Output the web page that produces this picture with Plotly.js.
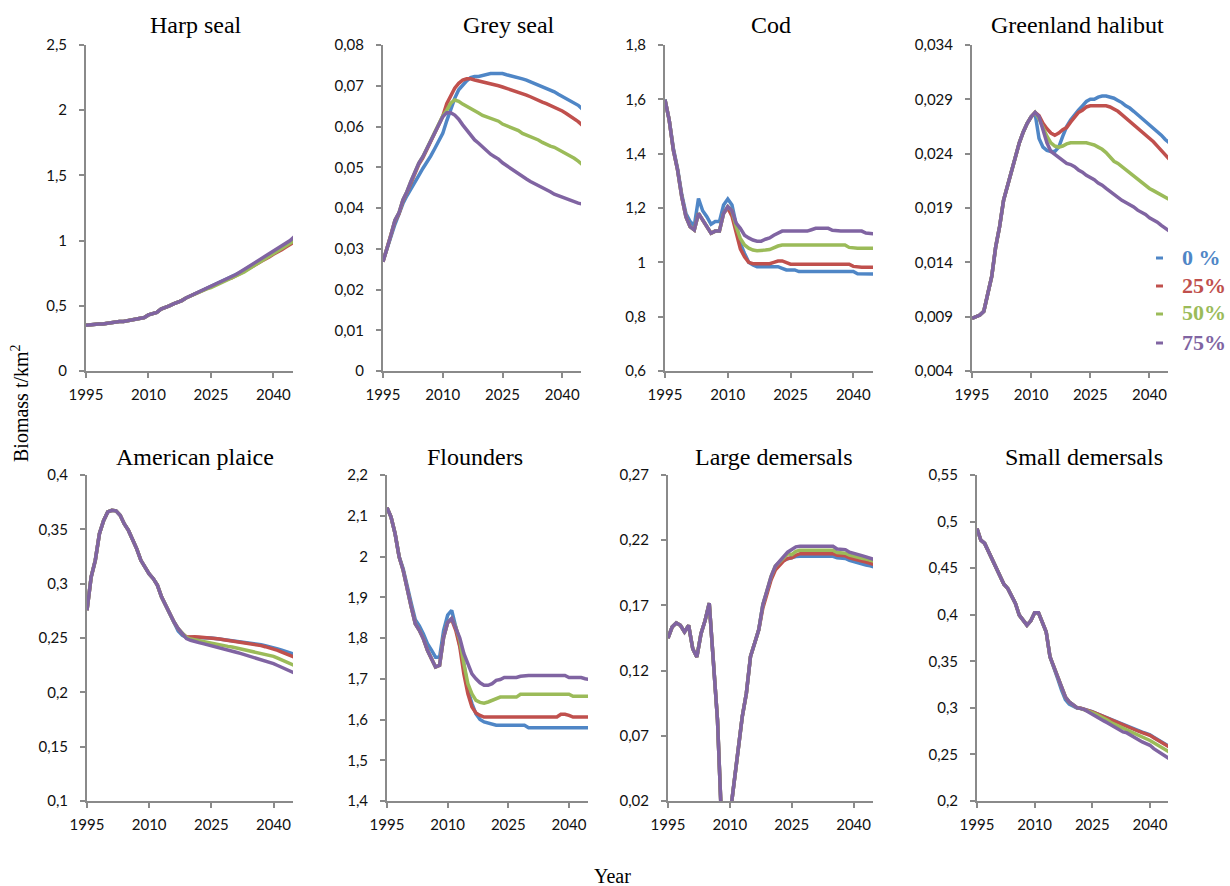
<!DOCTYPE html>
<html>
<head>
<meta charset="utf-8">
<script src="https://cdn.plot.ly/plotly-3.0.1.min.js"></script>
<style>
html,body{margin:0;padding:0;background:#fff;}
#chart{width:1230px;height:886px;}
</style>
</head>
<body>
<div id="chart"></div>
<script>
// ---------------- DATA ----------------
const YEARS = [1995,1996,1997,1998,1999,2000,2001,2002,2003,2004,2005,2006,2007,2008,2009,2010,2011,2012,2013,2014,2015,2016,2017,2018,2019,2020,2021,2022,2023,2024,2025,2026,2027,2028,2029,2030,2031,2032,2033,2034,2035,2036,2037,2038,2039,2040,2041,2042,2043,2044,2045];
const SCENARIOS = ["0 %", "25%", "50%", "75%"];
const X_TICK_VALUES = [1995, 2010, 2025, 2040];
const X_TICK_LABELS = ["1995", "2010", "2025", "2040"];
const PANEL_TITLES = ["Harp seal","Grey seal","Cod","Greenland halibut","American plaice","Flounders","Large demersals","Small demersals"];

// Harp seal
const harp_0 = [.35,.355,.36,.36,.36,.365,.375,.38,.38,.38,.385,.395,.40,.405,.41,.43,.44,.45,.475,.485,.50,.515,.525,.54,.56,.575,.59,.60,.615,.63,.645,.66,.675,.69,.705,.72,.735,.755,.775,.795,.815,.835,.855,.87,.89,.91,.93,.95,.97,.99,1.01];
const harp_25 = [.35,.355,.36,.36,.36,.365,.375,.38,.38,.38,.385,.395,.40,.405,.41,.43,.44,.45,.475,.485,.50,.515,.525,.54,.56,.575,.59,.60,.615,.63,.645,.66,.675,.69,.705,.715,.73,.745,.765,.785,.80,.82,.84,.855,.875,.895,.91,.93,.95,.97,.99];
const harp_50 = [.35,.355,.36,.36,.36,.365,.375,.38,.38,.38,.385,.395,.40,.405,.41,.43,.44,.45,.475,.485,.50,.515,.525,.54,.56,.575,.59,.60,.615,.63,.64,.655,.67,.685,.70,.71,.725,.74,.76,.78,.80,.82,.84,.855,.875,.895,.915,.935,.955,.98,1.0];
const harp_75 = [.35,.355,.36,.36,.36,.365,.375,.38,.38,.38,.385,.395,.40,.405,.41,.43,.44,.45,.475,.485,.50,.515,.525,.54,.56,.575,.59,.60,.615,.63,.645,.66,.675,.69,.705,.72,.74,.76,.78,.80,.82,.84,.86,.875,.895,.915,.935,.955,.975,1.0,1.03];

// Grey seal
const grey_0 = [.027,.0302,.033,.036,.0385,.0411,.043,.0448,.0465,.048,.0497,.0512,.0528,.0546,.0567,.0583,.0614,.0645,.0669,.069,.0702,.0712,.072,.0723,.0723,.0725,.0729,.073,.073,.073,.073,.0727,.0725,.0723,.072,.0717,.0714,.071,.0706,.0702,.0698,.0694,.069,.0685,.0679,.0674,.0669,.0663,.0658,.0652,.0643];
const grey_25 = [.0268,.0303,.0332,.0368,.0386,.0418,.0438,.0462,.0486,.0507,.0523,.0543,.0564,.0584,.0605,.0625,.0656,.0677,.0694,.0706,.0714,.0717,.0717,.0714,.0712,.071,.0707,.0706,.0702,.07,.0697,.0694,.069,.0687,.0685,.068,.0677,.0673,.0668,.0664,.066,.0656,.0652,.0648,.0644,.0638,.0632,.0626,.062,.0612,.0603];
const grey_50 = [.0268,.0305,.0334,.037,.0388,.042,.044,.0465,.0489,.051,.0526,.0546,.0567,.0587,.0608,.0626,.064,.0657,.0665,.0662,.0655,.065,.0645,.0639,.0633,.0627,.0623,.062,.0616,.0613,.0606,.0602,.0597,.0593,.059,.0583,.0579,.0575,.0572,.0567,.0561,.0556,.0552,.0549,.0544,.0538,.0533,.0528,.0522,.0515,.0507];
const grey_75 = [.0268,.0305,.0334,.037,.0388,.042,.044,.0465,.0489,.051,.0526,.0546,.0567,.0587,.0608,.0624,.0634,.0634,.0628,.0618,.0604,.0591,.0577,.0567,.0559,.0549,.0541,.0532,.0526,.052,.0511,.0504,.0497,.049,.0485,.0477,.0471,.0465,.046,.0456,.0452,.0446,.044,.0434,.043,.0428,.0424,.042,.0416,.0412,.041];

// Cod
const cod_0 = [1.6,1.524,1.42,1.345,1.25,1.18,1.15,1.135,1.235,1.19,1.168,1.14,1.15,1.15,1.211,1.233,1.211,1.144,1.07,1.033,1.0,.99,.984,.984,.984,.984,.984,.984,.978,.972,.972,.972,.966,.966,.966,.966,.966,.966,.966,.966,.966,.966,.966,.966,.966,.966,.958,.957,.957,.957,.957];
const cod_25 = [1.598,1.524,1.413,1.34,1.242,1.168,1.131,1.119,1.18,1.156,1.131,1.107,1.115,1.115,1.18,1.2,1.17,1.107,1.05,1.02,1.0,.995,.995,.995,.995,.995,1.0,1.005,1.005,1.0,.993,.993,.993,.993,.993,.993,.993,.993,.993,.993,.993,.993,.993,.993,.993,.985,.982,.982,.982,.982,.982];
const cod_50 = [1.598,1.524,1.413,1.34,1.242,1.168,1.131,1.119,1.18,1.156,1.131,1.107,1.115,1.115,1.18,1.205,1.19,1.131,1.088,1.064,1.052,1.045,1.043,1.043,1.045,1.047,1.055,1.06,1.064,1.064,1.064,1.064,1.064,1.064,1.064,1.064,1.064,1.064,1.064,1.064,1.064,1.064,1.064,1.064,1.055,1.052,1.052,1.052,1.052,1.052,1.052];
const cod_75 = [1.598,1.524,1.413,1.34,1.242,1.168,1.131,1.119,1.18,1.156,1.131,1.107,1.115,1.115,1.18,1.205,1.19,1.144,1.125,1.1,1.09,1.082,1.078,1.078,1.085,1.09,1.1,1.108,1.115,1.115,1.115,1.115,1.115,1.115,1.115,1.12,1.125,1.125,1.125,1.125,1.118,1.115,1.115,1.115,1.115,1.115,1.115,1.115,1.108,1.105,1.105];

// Greenland halibut
const ghal_0 = [.00885,.009,.00915,.0095,.0112,.0127,.0154,.0173,.0197,.021,.0225,.0237,.025,.026,.0268,.0274,.0277,.0254,.0246,.0243,.0242,.0242,.0246,.0256,.0265,.0271,.0276,.028,.0284,.0288,.029,.029,.0292,.0293,.0293,.0292,.0291,.0289,.0287,.0284,.0282,.0279,.0276,.0273,.0269,.0266,.0263,.026,.0257,.0253,.025];
const ghal_25 = [.00885,.009,.00915,.0095,.0112,.0127,.0154,.0173,.0197,.021,.0225,.0237,.025,.026,.0268,.0274,.0278,.0275,.0268,.0263,.0259,.0257,.0259,.0262,.0264,.0269,.0274,.0278,.028,.0283,.0284,.0284,.0284,.0284,.0284,.0283,.0281,.0279,.0276,.0273,.0269,.0266,.0263,.026,.0257,.0254,.0251,.0247,.0243,.0239,.0235];
const ghal_50 = [.00885,.009,.00915,.0095,.0112,.0127,.0154,.0173,.0197,.021,.0225,.0237,.025,.026,.0268,.0274,.0278,.0272,.0263,.0256,.025,.0247,.0246,.0247,.0249,.025,.025,.025,.025,.025,.0249,.0248,.0246,.0244,.0241,.0237,.0233,.0231,.0228,.0225,.0222,.022,.0217,.0213,.021,.0208,.0206,.0204,.0202,.02,.0198];
const ghal_75 = [.00885,.009,.00915,.0095,.0112,.0127,.0154,.0173,.0197,.021,.0225,.0237,.025,.026,.0268,.0274,.0278,.0274,.0262,.025,.0242,.0239,.0236,.0233,.0231,.023,.0228,.0225,.0223,.022,.0218,.0216,.0213,.0211,.0208,.0205,.0202,.02,.0197,.0195,.0193,.0191,.0188,.0186,.0184,.0181,.0179,.0177,.0174,.0171,.0169];

// American plaice
const plaice_0 = [.2755,.306,.3215,.346,.358,.366,.3675,.367,.363,.355,.349,.341,.332,.3215,.315,.309,.3046,.2985,.2877,.28,.2709,.263,.2565,.2525,.2505,.2505,.2505,.2505,.2503,.2502,.25,.2495,.249,.2485,.248,.2475,.2471,.2467,.2463,.2459,.2455,.2446,.2438,.2429,.2421,.2412,.2399,.2387,.2375,.2362,.235];
const plaice_25 = [.2755,.306,.3215,.346,.358,.366,.3675,.367,.363,.355,.349,.341,.332,.3215,.315,.309,.3046,.2985,.2877,.28,.2709,.2647,.2586,.254,.251,.2515,.2512,.251,.2507,.2505,.2503,.2497,.249,.2484,.2478,.2472,.2467,.2462,.2458,.2453,.2448,.2439,.243,.242,.2411,.2402,.2387,.2371,.2356,.234,.2325];
const plaice_50 = [.2755,.306,.3215,.346,.358,.366,.3675,.367,.363,.355,.349,.341,.332,.3215,.315,.309,.3046,.2985,.2877,.28,.2709,.2647,.2586,.254,.2505,.249,.2482,.2473,.2465,.2456,.2448,.2442,.2436,.2429,.2423,.2417,.2409,.2401,.2393,.2385,.2377,.2368,.2359,.2349,.234,.2331,.2314,.2298,.2281,.2264,.2248];
const plaice_75 = [.2755,.306,.3215,.346,.358,.366,.3675,.367,.363,.355,.349,.341,.332,.3215,.315,.309,.3046,.2985,.2877,.28,.2709,.2647,.2586,.254,.2494,.2479,.2472,.2457,.2448,.2439,.243,.242,.241,.24,.239,.238,.2369,.2358,.2347,.2336,.2325,.2313,.2301,.2289,.2277,.2264,.2247,.223,.2212,.2195,.2178];

// Flounders
const floun_0 = [2.12,2.097,2.056,2.0,1.97,1.925,1.885,1.845,1.83,1.81,1.786,1.77,1.753,1.753,1.819,1.856,1.868,1.827,1.786,1.737,1.672,1.639,1.614,1.6,1.594,1.591,1.59,1.586,1.586,1.586,1.586,1.586,1.586,1.586,1.586,1.58,1.58,1.58,1.58,1.58,1.58,1.58,1.58,1.58,1.58,1.58,1.58,1.58,1.58,1.58,1.58];
const floun_25 = [2.12,2.097,2.056,1.999,1.966,1.917,1.876,1.835,1.819,1.798,1.77,1.749,1.729,1.733,1.802,1.838,1.845,1.819,1.778,1.712,1.663,1.631,1.616,1.61,1.606,1.606,1.606,1.606,1.606,1.606,1.606,1.606,1.606,1.606,1.606,1.606,1.606,1.606,1.606,1.606,1.606,1.606,1.606,1.613,1.613,1.61,1.606,1.606,1.606,1.606,1.606];
const floun_50 = [2.12,2.097,2.056,1.999,1.966,1.917,1.876,1.835,1.819,1.798,1.77,1.749,1.729,1.733,1.802,1.838,1.848,1.827,1.794,1.737,1.688,1.663,1.647,1.642,1.64,1.643,1.647,1.651,1.655,1.655,1.655,1.655,1.655,1.662,1.662,1.662,1.662,1.662,1.662,1.662,1.662,1.662,1.662,1.662,1.662,1.662,1.657,1.657,1.657,1.657,1.657];
const floun_75 = [2.12,2.097,2.056,1.999,1.966,1.917,1.876,1.835,1.819,1.798,1.77,1.749,1.729,1.733,1.802,1.838,1.848,1.825,1.8,1.762,1.737,1.712,1.70,1.69,1.684,1.684,1.688,1.696,1.698,1.703,1.703,1.703,1.703,1.706,1.708,1.708,1.708,1.708,1.708,1.708,1.708,1.708,1.708,1.708,1.708,1.703,1.703,1.703,1.703,1.7,1.698];

// Large demersals
const ldem_0 = [.1449,.1534,.1565,.1547,.1496,.1547,.1368,.1304,.1483,.1585,.1718,.128,.082,.003,.002,.008,.0333,.0564,.0846,.1026,.1308,.141,.1513,.1705,.181,.191,.1985,.202,.2045,.2058,.2068,.2075,.2077,.2077,.2077,.2077,.2077,.2077,.2077,.2077,.2077,.2065,.206,.206,.2045,.2035,.2025,.2018,.201,.2003,.1995];
const ldem_25 = [.1449,.1534,.1565,.1547,.1496,.1547,.1368,.1304,.1483,.1585,.1718,.128,.082,.003,.002,.008,.0333,.0564,.0846,.1026,.1308,.141,.1513,.168,.178,.1897,.197,.201,.204,.206,.2064,.2085,.2097,.2097,.2097,.2097,.2097,.2097,.2097,.2097,.2097,.2085,.208,.208,.2065,.2055,.205,.204,.2033,.2023,.2013];
const ldem_50 = [.1449,.1534,.1565,.1547,.1496,.1547,.1368,.1304,.1483,.1585,.1718,.128,.082,.003,.002,.008,.0333,.0564,.0846,.1026,.1308,.141,.1513,.1705,.182,.1923,.2,.2035,.207,.2095,.209,.2115,.2123,.2123,.2123,.2123,.2123,.2123,.2123,.2123,.2123,.2105,.21,.21,.2085,.2075,.207,.2062,.2055,.2046,.2038];
const ldem_75 = [.1449,.1534,.1565,.1547,.1496,.1547,.1368,.1304,.1483,.1585,.1718,.128,.082,.003,.002,.008,.0333,.0564,.0846,.1026,.1308,.141,.1513,.1705,.182,.1923,.2,.2038,.2077,.2108,.2128,.2149,.2154,.2154,.2154,.2154,.2154,.2154,.2154,.2154,.2154,.2133,.2128,.2128,.2108,.2097,.209,.2082,.2072,.2062,.2051];

// Small demersals
const sdem_0 = [.4926,.48,.4765,.4676,.4604,.4496,.4407,.4328,.4282,.4192,.412,.3995,.3941,.3888,.3934,.402,.402,.3923,.3816,.3547,.344,.3314,.319,.309,.304,.3015,.2998,.2995,.2985,.2975,.2958,.2942,.2925,.2907,.289,.2872,.2854,.2836,.2818,.28,.2782,.2768,.2754,.274,.2725,.271,.2685,.266,.2635,.261,.2585];
const sdem_25 = [.4926,.48,.4765,.4676,.4604,.4496,.4407,.4328,.4282,.4192,.412,.3995,.3941,.3888,.3934,.402,.402,.3923,.3816,.3547,.344,.3314,.3207,.3117,.3064,.3028,.3003,.2995,.2985,.2975,.2956,.294,.2922,.2904,.2886,.2867,.2849,.2831,.2813,.2795,.2777,.2763,.2749,.2734,.272,.2706,.268,.2655,.263,.2605,.258];
const sdem_50 = [.4926,.48,.4765,.4676,.4604,.4496,.4407,.4328,.4282,.4192,.412,.3995,.3941,.3888,.3934,.402,.402,.3923,.3816,.3547,.344,.3314,.3207,.3117,.3064,.3028,.3003,.2992,.2981,.297,.295,.293,.291,.2893,.2866,.2838,.282,.2801,.278,.276,.2741,.2722,.2703,.2686,.2668,.265,.2626,.2602,.2577,.2552,.2527];
const sdem_75 = [.4926,.48,.4765,.4676,.4604,.4496,.4407,.4328,.4282,.4192,.412,.3995,.3941,.3888,.3934,.402,.402,.3923,.3816,.3547,.344,.3314,.3207,.3117,.3064,.3028,.3003,.2992,.2981,.2956,.2931,.2903,.2874,.286,.2838,.2813,.2795,.2766,.2741,.2731,.2706,.268,.2652,.2634,.2616,.2598,.2562,.2537,.2509,.248,.2455];

const PANEL_SERIES = [
  [harp_0, harp_25, harp_50, harp_75],
  [grey_0, grey_25, grey_50, grey_75],
  [cod_0, cod_25, cod_50, cod_75],
  [ghal_0, ghal_25, ghal_50, ghal_75],
  [plaice_0, plaice_25, plaice_50, plaice_75],
  [floun_0, floun_25, floun_50, floun_75],
  [ldem_0, ldem_25, ldem_50, ldem_75],
  [sdem_0, sdem_25, sdem_50, sdem_75]
];
// y-axis scale [min, max, step]
const Y_MIN  = [0, 0, 0.6, 0.004, 0.1, 1.4, 0.02, 0.2];
const Y_MAX  = [2.5, 0.08, 1.8, 0.034, 0.4, 2.2, 0.27, 0.55];
const Y_STEP = [0.5, 0.01, 0.2, 0.005, 0.05, 0.1, 0.05, 0.05];

// ---------------- STYLE / LAYOUT ----------------
const W = 1230, H = 886;
const COLORS = ["#4F86C6", "#C0504D", "#9BBB59", "#8064A2"];
// pixel geometry of each plot area: [left, right, top, bottom]
const BOXES = [
  [86, 293, 45, 371], [383, 581, 45, 371], [665, 873, 45, 371], [972, 1168, 45, 371],
  [87, 293, 475, 801], [387, 588, 475, 801], [668, 873, 475, 801], [977, 1168, 475, 801]
];
const TITLE_POS = [[196, 25], [509, 25], [771, 25], [1077, 25], [195, 457], [475, 457], [774, 457], [1084, 457]];
const AXIS_COLOR = "#8a8a8a";
const TICK_FONT = {family: "Lato, 'Open Sans', sans-serif", size: 15, color: "#111"};
const SERIF = "'Liberation Serif', 'Times New Roman', serif";

const traces = [];
const layout = {
  width: W, height: H,
  margin: {l: 0, r: 0, t: 0, b: 0},
  paper_bgcolor: "#fff", plot_bgcolor: "#fff",
  separators: ", ",
  showlegend: false,
  annotations: [],
  shapes: []
};

for (let p = 0; p < 8; p++) {
  const n = p + 1;
  const xa = "x" + (n === 1 ? "" : n), ya = "y" + (n === 1 ? "" : n);
  const b = BOXES[p];
  PANEL_SERIES[p].forEach((vals, s) => {
    traces.push({
      type: "scatter", mode: "lines", x: YEARS, y: vals,
      name: SCENARIOS[s], xaxis: xa, yaxis: ya,
      line: {color: COLORS[s], width: 3.5},
      hoverinfo: "x+y+name"
    });
  });
  layout["xaxis" + (n === 1 ? "" : n)] = {
    domain: [b[0] / W, b[1] / W], anchor: ya,
    range: [1995, 2044.7], tickvals: X_TICK_VALUES, ticktext: X_TICK_LABELS,
    showline: true, linecolor: AXIS_COLOR, linewidth: 2,
    ticks: "outside", ticklen: 5, tickwidth: 2, tickcolor: AXIS_COLOR,
    showgrid: false, zeroline: false, tickfont: TICK_FONT, ticklabelstandoff: 4
  };
  layout["yaxis" + (n === 1 ? "" : n)] = {
    domain: [1 - b[3] / H, 1 - b[2] / H], anchor: xa,
    range: [Y_MIN[p], Y_MAX[p]], tick0: Y_MIN[p], dtick: Y_STEP[p], tickmode: "linear",
    showline: true, linecolor: AXIS_COLOR, linewidth: 2,
    ticks: "outside", ticklen: 5, tickwidth: 2, tickcolor: AXIS_COLOR,
    showgrid: false, zeroline: false, tickfont: TICK_FONT, ticklabelstandoff: 9
  };
  layout.annotations.push({
    text: PANEL_TITLES[p], xref: "paper", yref: "paper",
    x: TITLE_POS[p][0] / W, y: 1 - TITLE_POS[p][1] / H,
    xanchor: "center", yanchor: "middle", showarrow: false,
    font: {family: SERIF, size: 24, color: "#000"}
  });
}

// legend (custom, as in the reference): short coloured dash + bold label
const LEG_Y = [257, 285, 313, 342];
SCENARIOS.forEach((label, s) => {
  const yy = 1 - (LEG_Y[s] + 1) / H;
  layout.shapes.push({
    type: "line", xref: "paper", yref: "paper",
    x0: 1156 / W, x1: 1163 / W, y0: yy, y1: yy,
    line: {color: COLORS[s], width: 3}
  });
  layout.annotations.push({
    text: "<b>" + label + "</b>", xref: "paper", yref: "paper", x: 1180 / W, y: 1 - LEG_Y[s] / H,
    xanchor: "left", yanchor: "middle", showarrow: false,
    font: {family: SERIF, size: 22, color: COLORS[s]}
  });
});

// axis titles
layout.annotations.push({
  text: "Biomass t/km<sup>2</sup>", xref: "paper", yref: "paper", x: 20 / W, y: 1 - 403 / H,
  xanchor: "center", yanchor: "middle", textangle: -90, showarrow: false,
  font: {family: SERIF, size: 20, color: "#000"}
});
layout.annotations.push({
  text: "Year", xref: "paper", yref: "paper", x: 612 / W, y: 1 - 876 / H,
  xanchor: "center", yanchor: "middle", showarrow: false,
  font: {family: SERIF, size: 20, color: "#000"}
});

Plotly.newPlot("chart", traces, layout, {displayModeBar: false, responsive: false});
</script>
</body>
</html>
